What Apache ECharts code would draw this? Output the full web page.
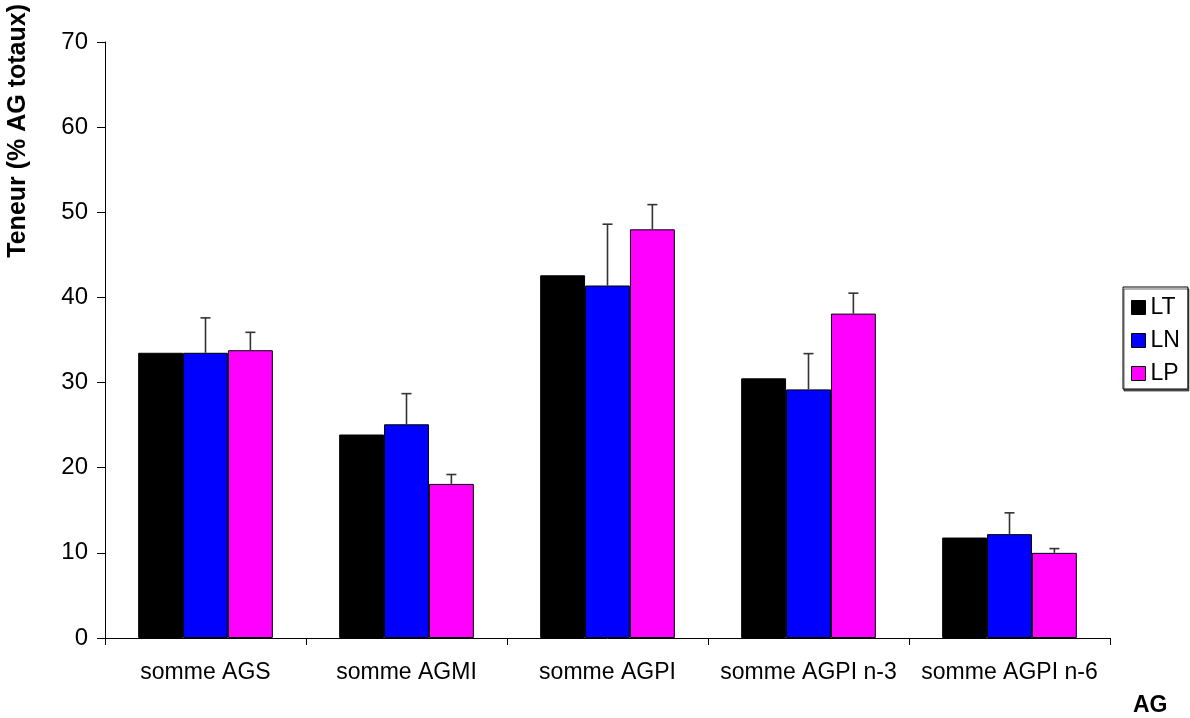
<!DOCTYPE html>
<html><head><meta charset="utf-8">
<script src="https://cdn.jsdelivr.net/npm/echarts@6/dist/echarts.min.js"></script>
<style>html,body{margin:0;padding:0;background:#fff}#c{width:1190px;height:718px}</style>
</head><body><div id="c"></div>
<script>
const categories = ['somme AGS', 'somme AGMI', 'somme AGPI', 'somme AGPI n-3', 'somme AGPI n-6'];
const seriesNames = ['LT', 'LN', 'LP'];
const colors = ['#000000', '#0000ff', '#ff00ff'];
const valuesLT = [33.5, 23.9, 42.6, 30.5, 11.8];
const valuesLN = [33.5, 25.1, 41.4, 29.2, 12.2];
const valuesLP = [33.8, 18.1, 48.0, 38.1, 10.0];
const errLT = [0, 0, 0, 0, 0];
const errLN = [4.1, 3.6, 7.2, 4.2, 2.5];
const errLP = [2.1, 1.1, 2.9, 2.4, 0.5];
const yTicks = [0, 10, 20, 30, 40, 50, 60, 70];

const values = [valuesLT, valuesLN, valuesLP];
const errs = [errLT, errLN, errLP];
const gapFrac = 0.33;
const font = 'Liberation Sans, Arial, sans-serif';

const chart = echarts.init(document.getElementById('c'));
const barSeries = seriesNames.map((n, i) => ({
  name: n, type: 'bar', data: values[i],
  barGap: '0%', barCategoryGap: '33%',
  itemStyle: { color: colors[i], borderColor: '#000', borderWidth: 1 },
  z: 2
}));
const errSeries = seriesNames.map((n, i) => ({
  type: 'custom', name: n + '_err',
  data: values[i].map((v, k) => [k, v, v + errs[i][k]]),
  renderItem: function (params, api) {
    const k = api.value(0);
    const base = api.coord([k, api.value(1)]);
    const top = api.coord([k, api.value(2)]);
    if (api.value(2) - api.value(1) <= 0) return null;
    const band = api.size([1, 0])[0];
    const bw = band * (1 - gapFrac) / 3;
    const x = base[0] + (i - 1) * bw;
    const cap = 5;
    const st = { stroke: '#333', lineWidth: 1.6 };
    return { type: 'group', children: [
      { type: 'line', shape: { x1: x, y1: base[1], x2: x, y2: top[1] }, style: st },
      { type: 'line', shape: { x1: x - cap, y1: top[1], x2: x + cap, y2: top[1] }, style: st }
    ]};
  },
  z: 3, silent: true
}));

chart.setOption({
  animation: false,
  backgroundColor: '#fff',
  textStyle: { fontFamily: font },
  grid: { left: 105, right: 80, top: 42, bottom: 80 },
  legend: {
    data: seriesNames, orient: 'vertical', left: 1123, top: 287,
    itemWidth: 14, itemHeight: 14, itemGap: 10,
    padding: [9, 8, 4, 8],
    borderColor: '#000', borderWidth: 1,
    shadowColor: 'rgba(0,0,0,0.6)', shadowOffsetX: 1, shadowOffsetY: 2, shadowBlur: 0,
    backgroundColor: '#fff',
    textStyle: { fontSize: 23, color: '#000', fontFamily: font, padding: [0, 0, 0, 0] },
    itemStyle: { borderColor: '#000', borderWidth: 1 },
    icon: 'rect'
  },
  xAxis: {
    type: 'category', data: categories,
    axisLine: { lineStyle: { color: '#000', width: 1 } },
    axisTick: { show: true, length: 7, lineStyle: { color: '#000' } },
    axisLabel: { color: '#000', fontSize: 23, margin: 23, fontFamily: font, interval: 0 }
  },
  yAxis: {
    type: 'value', min: 0, max: 70, interval: 10,
    axisLine: { show: true, lineStyle: { color: '#000', width: 1 } },
    axisTick: { show: true, length: 8, lineStyle: { color: '#000' } },
    splitLine: { show: false },
    axisLabel: { color: '#000', fontSize: 24, margin: 17, fontFamily: font,
      formatter: v => yTicks.includes(v) ? String(v) : '' }
  },
  graphic: [
    { type: 'text', left: 6, top: 4, rotation: Math.PI / 2,
      style: { text: 'Teneur (% AG totaux)', font: 'bold 25px ' + font, fill: '#000' } },
    { type: 'text', left: 1133, top: 694,
      style: { text: 'AG', font: 'bold 23px ' + font, fill: '#000' } }
  ],
  series: barSeries.concat(errSeries)
});
</script>
</body></html>
